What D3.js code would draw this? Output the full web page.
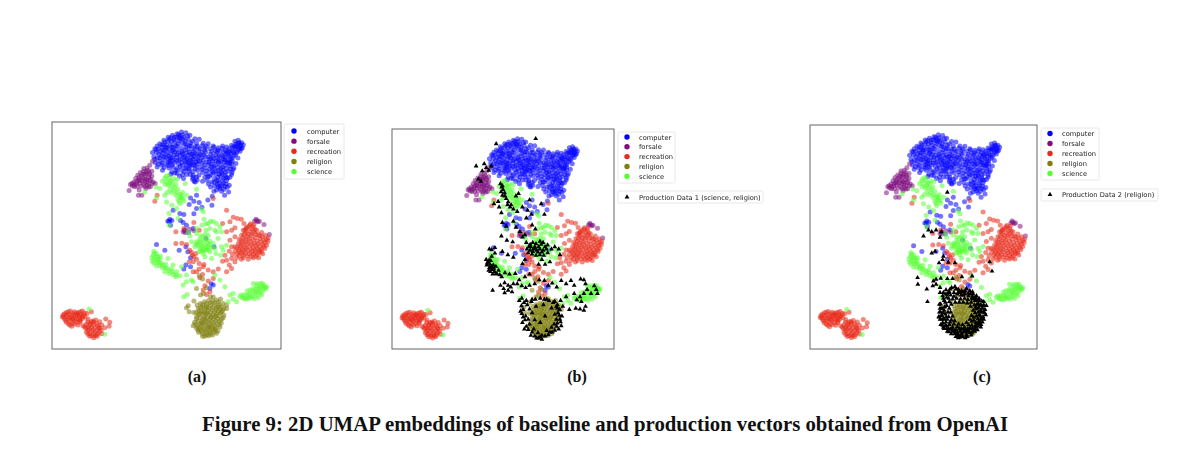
<!DOCTYPE html>
<html><head><meta charset="utf-8">
<script src="https://cdn.jsdelivr.net/npm/d3@7"></script>
<style>html,body{margin:0;background:#fff}svg{display:block}</style></head>
<body><svg id="c" width="1200" height="469"></svg>
<script>
const categories=["computer","forsale","recreation","religion","science"];
const computer=[[345,100],[338,112],[352,92],[360,85],[372,75],[385,66],[398,60],[412,55],[425,50],[438,52],[450,60],[465,70],[478,72],[490,84],[505,85],[520,92],[535,97],[548,92],[560,95],[575,90],[585,78],[595,75],[605,82],[610,88],[600,95],[592,90],[585,100],
[375,80],[388,72],[395,78],[410,66],[420,62],[432,66],[445,72],[458,78],[470,84],[380,90],[366,96],[392,88],[405,80],[418,76],[428,84],[441,88],[452,82],[466,94],[480,100],[495,98],[510,100],[525,106],[540,108],[555,104],[568,100],[578,108],[590,112],[600,108],
[342,125],[350,112],[362,108],[375,104],[388,102],[400,96],[412,92],[424,98],[436,104],[448,100],[460,108],[472,116],[486,112],[498,110],[512,116],[528,118],[545,120],[558,116],[570,124],[582,122],[594,128],[352,128],[365,122],[378,118],[392,116],[404,110],[416,112],[430,118],[444,120],[456,126],[470,130],[484,128],[496,124],[508,132],[522,130],[536,134],[550,132],[563,136],[577,138],[588,145],
[346,142],[360,138],[373,134],[386,132],[398,128],[410,126],[422,132],[434,136],[446,134],[458,140],[472,146],[486,144],[500,140],[514,146],[528,148],[542,146],[556,150],[570,152],[582,158],[366,150],[380,146],[392,144],[404,142],[416,146],[428,150],[440,148],[452,154],[466,160],[480,156],[494,158],[508,162],[522,160],[536,166],[550,164],[564,168],[576,172],
[388,158],[400,156],[412,160],[424,164],[436,160],[448,168],[460,180],[470,186],[458,192],[472,194],[488,172],[500,176],[514,178],[528,176],[542,182],[556,180],[570,186],[560,196],[548,196],[536,196],[524,190],[532,208],[546,210],[558,206],[568,210],[552,222],[540,220],[524,212],[512,215],[566,230],[554,240],[522,228],[517,243],[488,198],[502,195],[440,178],[428,178],[412,174],[396,170],[368,165],[352,155],
[438,96],[454,92],[476,104],[522,96],[538,122],[564,112],[404,66],[418,68],[372,88],[384,78],[400,104],[426,108],[442,130],[458,116],[474,136],[490,134],[518,138],[534,156],[548,156],[562,142],[576,146],[392,128],[410,136],[426,142],[440,158],[454,146],[466,152],[506,150],[520,172],[534,186],[544,170],[556,172],[598,82],[588,86],[602,90],[594,104],[582,112],[572,132],[556,126],
[470,240],[452,248],[462,258],[478,262],[470,280],[462,296],[486,276],[504,254],[516,270],[448,268],[400,285],[420,295],[432,298],[396,316],[388,318],[390,312],[430,322],[422,316],[440,330],[434,345],[446,352],[460,340],[350,388],[375,405],[418,405],[438,395],[444,410],[452,428],[432,462],[438,450],[452,455],[520,510],[510,520],[514,506],[522,395],[498,370],[392,330],[384,318]];
const computerDense=[[381,97],[393,67],[403,73],[415,85],[427,59],[437,77],[449,91],[463,101],[473,93],[487,91],[499,93],[515,109],[531,111],[547,99],[561,109],[573,115],[583,93],[597,99],[607,97],[349,103],[357,117],[369,113],[383,111],[397,107],[411,103],[421,121],[435,125],[449,111],[463,123],[477,123],[491,119],[505,125],[519,123],[533,127],[549,125],[565,121],[577,129],[345,133],[355,147],[367,143],[379,125],[391,137],[403,119],[417,135],[431,127],[445,143],[459,131],[479,139],[493,149],[507,141],[521,153],[535,141],[553,141],[567,145],[579,163],[373,157],[385,151],[397,149],[409,165],[421,153],[433,169],[447,161],[459,169],[473,166],[487,163],[501,167],[515,155],[529,167],[543,159],[559,159],[571,161],[393,177],[405,173],[419,183],[431,190],[463,198],[451,178],[477,180],[495,186],[509,184],[523,201],[537,204],[551,189],[563,188],[575,178],[541,214],[555,214],[530,224],[545,228],[516,200],[506,206],[395,94],[407,91],[423,71],[435,85],[378,96],[370,105],[388,123],[412,118],[427,113],[440,112],[452,118],[466,114],[481,118],[494,105],[534,104],[552,112],[570,107],[587,118],[604,100],[596,84],[589,94],[578,96],[542,138],[556,134],[570,140],[528,137],[513,130],[468,140],[452,136],[438,140],[400,135],[386,140],[372,126],[360,128],[356,100],[366,88],[429,72],[443,62],[416,58],[450,150],[462,148],[546,176],[558,186],[538,176],[530,196],[516,168],[504,184],[550,204],[562,216],[535,215],[460,186],[466,200]];
const forsale=[[338,138],[330,150],[322,158],[312,168],[302,172],[294,180],[288,190],[282,200],[272,208],[268,226],[278,212],[290,206],[300,196],[310,188],[318,178],[328,172],[336,168],[326,186],[314,200],[322,210],[332,214],[340,200],[304,212],[298,224],[306,240],[296,240],[318,220],[330,196],[346,205],[308,176],[296,194],[284,214],[316,192],[326,204],[336,182],[650,316],[644,318],[672,328],[688,358],[430,350],[436,352],[448,342],[462,346]];
const forsaleDense=[[305,183],[298,187],[291,199],[283,207],[276,205],[320,170],[325,165],[315,176],[306,196],[299,203],[311,207],[321,199],[329,178],[333,192],[337,205],[327,215],[316,214],[292,214],[312,160],[320,192],[654,320],[648,312],[658,318],[435,345]];
const recreation=[[630,330],[620,338],[610,345],[640,335],[650,345],[605,360],[618,352],[630,348],[642,350],[655,358],[665,352],[676,360],[685,368],[598,372],[610,368],[622,365],[634,362],[646,368],[660,370],[672,375],[684,378],[595,385],[606,382],[618,380],[630,378],[642,384],[654,386],[668,388],[680,390],[590,398],[602,396],[614,395],[628,393],[640,398],[652,400],[664,402],[674,400],[585,408],[598,410],[610,408],[622,406],[634,410],[646,412],[658,412],[668,416],[598,422],[610,420],[622,422],[634,424],[648,424],[656,428],[578,418],[590,428],[604,432],[625,432],
[560,285],[580,306],[592,310],[604,312],[570,320],[548,325],[612,325],[585,338],[560,350],[575,345],[585,365],[570,375],[575,395],[568,408],[555,420],[575,430],[585,440],[560,435],[548,438],[568,450],[575,460],[560,470],[535,462],[520,470],[505,465],[492,448],[478,462],[462,425],[455,412],[470,432],[460,440],[478,445],[490,455],[408,350],[432,340],[462,322],[478,345],[345,258],[352,240],[520,250],[408,385],[426,384],[440,388],[450,405],[458,420],[468,415],[448,440],[470,470],[488,478],[480,488],[495,512],[505,498],[490,525],[510,530],[500,538],[520,490],[460,470],
[70,600],[80,592],[92,588],[104,590],[116,592],[128,588],[75,612],[84,606],[96,602],[108,604],[120,606],[132,600],[142,595],[80,622],[92,618],[104,616],[116,614],[128,610],[90,630],[104,628],[115,630],[68,606],[88,598],[100,610],[112,598],[124,598],[155,590],[145,612],[155,620],[168,615],[180,620],[140,628],[150,630],[162,630],[175,632],[186,630],[198,612],[210,622],[208,634],[195,638],[138,640],[148,642],[160,644],[172,646],[184,646],[140,652],[150,656],[162,658],[174,658],[186,656],[150,664],[162,668],[172,664],[130,632],[120,622]];
const recreationDense=[[625,334],[635,341],[615,345],[645,343],[624,357],[636,356],[612,358],[648,358],[660,362],[604,376],[616,373],[628,371],[640,374],[652,378],[664,380],[676,382],[600,390],[612,388],[624,386],[636,388],[648,392],[660,394],[672,394],[596,403],[608,402],[620,400],[634,403],[646,405],[658,406],[604,414],[616,414],[628,416],[640,417],[652,418],[664,410],[610,428],[640,428],[592,416],[618,340],[632,326],[642,328],[668,365],[680,372],[585,395],
[74,596],[86,590],[98,595],[110,594],[122,590],[135,594],[72,606],[80,600],[92,608],[104,600],[116,600],[128,604],[136,606],[78,616],[86,612],[98,612],[110,610],[122,612],[86,626],[98,624],[110,622],[122,618],[96,634],[144,620],[152,625],[162,622],[172,626],[145,636],[155,636],[166,638],[178,638],[144,646],[155,648],[166,652],[178,652],[145,658],[156,662],[167,662],[180,640],[135,635],[160,618]];
const religion=[[542,552],[530,555],[518,558],[506,556],[494,560],[482,565],[472,570],[445,572],[440,578],[448,590],[462,592],[475,580],[488,575],[500,572],[512,570],[525,570],[538,568],[550,565],[560,570],[552,580],[540,582],[528,584],[516,584],[504,586],[492,590],[480,596],[470,605],[482,608],[494,604],[506,600],[518,598],[530,596],[542,594],[552,600],[546,612],[534,610],[522,612],[510,614],[498,618],[486,620],[474,618],[464,622],[460,632],[472,632],[484,634],[496,630],[508,628],[520,626],[532,624],[544,624],[540,636],[528,638],[516,640],[504,642],[492,644],[480,644],[470,640],[476,652],[488,656],[500,654],[512,652],[524,650],[534,648],[518,660],[506,662],[494,664],[500,578],[485,590],[512,592],[525,605],[495,612],[508,636],[525,632],[485,625],[470,592],[535,575],[520,546],[545,590],[498,595],
[560,580],[478,482],[488,492],[470,520],[500,518],[490,535],[512,545],[482,540],[462,558]];
const religionDense=[[488,568],[500,565],[512,563],[524,562],[536,561],[482,578],[494,582],[506,578],[518,577],[530,577],[544,575],[478,588],[490,597],[502,593],[514,605],[524,590],[536,589],[548,586],[476,600],[488,612],[500,608],[512,608],[528,602],[538,603],[550,607],[470,612],[480,626],[492,624],[504,622],[516,620],[528,618],[540,617],[466,628],[478,638],[490,638],[502,636],[514,634],[526,644],[538,630],[484,650],[496,649],[508,647],[520,645],[530,655],[500,660],[488,664],[512,658],[474,645]];
const science=[[385,180],[375,190],[368,198],[380,200],[392,196],[402,190],[412,192],[385,210],[396,212],[408,208],[390,222],[402,226],[414,222],[420,236],[408,240],[425,248],[432,258],[418,258],[428,232],[436,205],[350,248],[382,232],[380,260],[396,270],[410,280],[440,240],[470,222],[485,282],[490,290],
[490,365],[480,372],[470,380],[500,372],[510,378],[485,385],[495,390],[505,395],[475,390],[465,395],[485,400],[498,405],[510,410],[490,415],[478,410],[520,385],[525,400],[495,425],[505,360],[498,345],[492,312],[505,325],[520,320],[530,325],[510,340],[525,345],[545,350],[535,370],[545,395],[528,415],[542,420],[515,430],[470,355],[455,380],[445,350],[388,330],[388,295],[415,310],
[342,408],[350,415],[340,420],[355,425],[345,432],[360,432],[338,438],[352,442],[365,445],[378,448],[350,452],[368,458],[382,460],[395,462],[375,470],[388,475],[400,478],[410,470],[385,430],[400,450],[420,482],[408,485],[430,510],[440,500],[455,495],[425,455],[440,480],[460,500],
[672,512],[662,505],[650,512],[640,520],[630,525],[620,540],[608,548],[600,545],[618,552],[630,548],[642,550],[655,548],[665,540],[678,520],[668,528],[655,530],[645,535],[632,538],[660,518],[680,515],[640,505],[622,528],[612,540],[648,522],[668,505],[580,535],[590,560],[580,552],[555,515],[432,545],[442,538],[570,540],[565,560],[540,495],[525,480],
[148,582],[195,658],[315,230],[348,215],[360,220],[375,240],[420,265]];
const scienceDense=[[378,184],[388,190],[398,200],[376,208],[390,204],[404,216],[395,232],[410,232],[420,246],[414,252],[424,240],[430,250],[483,378],[494,376],[503,384],[474,384],[488,393],[480,398],[500,398],[492,403],[468,388],[508,388],[482,362],[495,358],[483,408],[504,404],[515,398],[490,407],[344,414],[348,424],[336,428],[352,434],[362,424],[342,444],[358,440],[370,450],[360,452],[376,458],[388,466],[398,470],[410,480],[656,520],[648,530],[638,528],[626,540],[636,545],[648,542],[660,534],[672,522],[612,550],[604,540],[625,550],[674,516],[665,514],[652,506],[530,350],[550,405],[560,390],[470,340],[486,330],[512,318],[498,326],[450,362],[540,335]];
const production1=[[481,50],[359,66],[297,135],[322,128],[328,140],[336,148],[316,150],[344,135],[304,175],[312,182],[372,190],[376,200],[380,208],[385,218],[378,226],[390,236],[396,246],[405,255],[412,268],[424,276],[365,245],[352,252],[368,262],[375,280],[440,262],[456,272],[468,285],[452,296],[462,240],[420,228],[428,220],[498,252],[508,285],[378,310],[390,322],[412,306],[420,325],[432,338],[448,348],[470,318],[480,330],[375,352],[392,365],[410,370],[440,355],
[464,378],[472,372],[482,376],[494,368],[504,372],[518,380],[530,392],[454,392],[464,396],[474,392],[484,396],[494,392],[504,396],[518,404],[470,408],[482,412],[494,410],[506,412],[490,385],[478,385],[460,385],[510,385],[498,378],[452,372],[500,425],[510,440],[525,432],[490,440],[540,385],[552,392],[556,410],[448,425],[440,438],[412,418],[395,410],[378,400],[355,405],[345,395],[338,392],[355,388],[345,415],
[328,425],[334,432],[340,440],[330,442],[338,450],[346,456],[354,462],[362,470],[370,472],[336,458],[350,442],[342,428],[358,446],[348,470],[366,458],[376,478],[386,466],[400,470],[418,468],[430,488],[448,478],[462,470],
[385,497],[396,505],[404,510],[412,500],[424,500],[438,506],[450,512],[462,505],[478,500],[492,488],[508,490],[520,505],[532,498],[546,510],[560,490],[575,500],[590,490],[600,505],[408,525],[396,520],[385,528],[382,515],[372,505],[348,520],
[620,485],[630,488],[635,500],[662,506],[668,518],[672,530],[652,530],[640,518],[630,530],[618,540],[608,550],[622,555],[635,570],[630,582],[618,578],[605,576],[585,580],[600,530],[575,540],[558,552],[548,565],[565,570],
[438,545],[445,558],[437,568],[442,580],[438,592],[450,600],[448,612],[440,620],[452,632],[458,642],[470,650],[478,662],[490,668],[500,672],[510,662],[520,658],[532,650],[540,644],[552,640],[560,630],[548,622],[556,610],[562,600],[550,590],[555,580],[545,570],[535,558],[522,552],[508,548],[495,545],[480,548],[468,555],[455,565],[462,578],[470,590],[458,610],[462,625],[475,640],[488,652],[500,660],[515,645],[530,635],[538,625],[545,610],[540,595],[530,575],[505,565],[482,570],[510,600],[495,620],[478,612],
[331,436],[337,427],[344,447],[352,452],[341,462],[358,468],[466,385],[480,390],[488,402],[500,402],[472,400],[458,404],[514,392],[430,552],[434,585],[442,603],[446,640],[466,660],[484,668],[495,664],[525,650],[546,632],[558,618],[554,598],[548,575],[540,555],[515,548],[470,548],[452,552],[378,196],[374,215],[386,228],[394,255],[402,262]];
const production2=[[452,225],[395,340],[405,345],[418,340],[380,358],[434,345],[430,362],[415,405],[405,410],[440,420],[438,430],[427,440],[455,438],[475,440],[580,437],[587,465],[362,485],[363,505],[390,520],[392,558],[410,495],[418,490],[432,487],[452,488],[468,488],[496,482],[527,480],[408,510],[418,505],[430,515],
[465,515],[475,512],[448,522],[458,528],[485,520],[495,525],[510,518],[520,525],[530,535],[540,540],[548,548],[556,556],[562,568],[570,570],[566,582],[558,578],[565,592],[560,604],[552,612],[558,620],[548,628],[538,636],[530,646],[520,652],[510,658],[498,664],[486,660],[474,656],[466,648],[456,640],[446,630],[438,622],[430,612],[436,600],[428,590],[436,578],[432,565],[442,555],[450,545],[438,540],[462,538],[472,530],[482,535],[494,538],[506,535],[516,540],[526,548],[536,555],[546,565],[555,590],[548,598],[544,610],[538,622],[526,630],[514,640],[502,650],[490,648],[478,644],[468,636],[458,628],[448,620],[440,610],[446,596],[442,584],[450,570],[458,558],[468,550],[480,548],[492,550],[504,548],[514,552],[524,560],[534,568],[540,580],[536,592],[532,606],[526,618],[516,628],[504,636],[494,640],[482,634],[472,626],[464,614],[456,604],[454,590],[458,578],[464,566],[476,560],[488,560],[500,560],[512,562],[522,572],[530,584],[525,600],[520,612],[510,622],[498,628],[486,626],[474,616],[468,602],[462,590],
[448,535],[472,542],[500,528],[522,535],[542,552],[552,568],[562,558],[568,598],[553,635],[543,644],[524,660],[512,664],[490,666],[478,664],[464,656],[452,648],[440,636],[432,628],[426,604],[430,578],[428,566],[440,548],[455,530],[486,528],[506,526],[528,528],[536,545],[546,576],[552,602],[544,632],[534,640],[516,646],[496,654],[482,652],[462,642],[450,632],[442,640],[436,612],[448,605],[440,592],[446,560],[456,548],[516,532],[528,542],[538,575],[542,565],[556,610],[550,620],[528,640],[506,644],[474,648],[460,620],[452,612],[432,590],[428,605],
[546,590],[552,585],[560,590],[556,570],[548,555],[538,548],[530,550],[562,612],[554,628],[542,626],[535,648],[522,640],[510,650],[500,642],[488,640],[478,655],[468,644],[456,650],[532,615],[540,602],[546,620],[520,638],[536,632],[526,654],[506,668],[495,658],[485,668],[444,612],[438,630],[450,640],[434,600],[444,574],[452,536],[440,530],[430,530],[460,520],[478,520],[490,530],[500,538]];
const colors=["#0505ff","#80107f","#e82a1a","#7f7f0c","#55ff33"];
const baseline=[computer.concat(computerDense),forsale.concat(forsaleDense),recreation.concat(recreationDense),religion.concat(religionDense),science.concat(scienceDense)];
const panels=[
{x0:52,x1:281,y0:122,y1:349,legend:[284,124,60,55,294,307,131],sub:"(a)",sx:197},
{x0:392,x1:614,y0:129,y1:349,legend:[618,132,57,51,627,639,137],sub:"(b)",sx:577,prod:production1,plabel:"Production Data 1 (science, religion)",pbox:[618,191,145,12,627,639,197]},
{x0:810,x1:1037,y0:125,y1:349,legend:[1041,128,58,52,1050,1062,133.5],sub:"(c)",sx:982,prod:production2,plabel:"Production Data 2 (religion)",pbox:[1041,189,117,12,1050,1062,194.5]}];
const svg=d3.select("#c");
const defs=svg.append("defs");
defs.append("filter").attr("id","b").attr("x","-5%").attr("y","-5%").attr("width","110%").attr("height","110%")
 .append("feGaussianBlur").attr("stdDeviation",0.45);
const tri=d3.symbol().type(d3.symbolTriangle).size(10);
const FONT="'DejaVu Sans',sans-serif";
panels.forEach(p=>{
 const g=svg.append("g").attr("filter","url(#b)");
 const x=d3.scaleLinear().domain([37,723]).range([p.x0,p.x1]);
 const y=d3.scaleLinear().domain([20,702]).range([p.y0,p.y1]);
 baseline.forEach((s,i)=>{
  g.append("g").selectAll("circle").data(s).join("circle")
   .attr("cx",d=>x(d[0])).attr("cy",d=>y(d[1])).attr("r",2.5)
   .attr("fill",colors[i]).attr("fill-opacity",0.55);
 });
 if(p.prod) g.append("g").selectAll("path").data(p.prod).join("path")
   .attr("d",tri).attr("transform",d=>`translate(${x(d[0])},${y(d[1])})`).attr("fill","#000");
 g.append("rect").attr("x",p.x0).attr("y",p.y0).attr("width",p.x1-p.x0).attr("height",p.y1-p.y0)
   .attr("fill","none").attr("stroke","#555").attr("stroke-width",0.9);
 const [lx,ly,lw,lh,mx,tx,ty]=p.legend;
 g.append("rect").attr("x",lx).attr("y",ly).attr("width",lw).attr("height",lh).attr("rx",1.5)
   .attr("fill","#fff").attr("stroke","#e2e2e2").attr("stroke-width",0.8);
 categories.forEach((c,i)=>{
  const yy=ty+i*10.15*(lh/55)+ (lh<55?0.4*i:0);
  g.append("circle").attr("cx",mx).attr("cy",yy).attr("r",2.7).attr("fill",colors[i]);
  g.append("text").attr("x",tx).attr("y",yy+2.5).attr("font-family",FONT).attr("font-size",6.7).attr("fill","#222").text(c);
 });
 if(p.pbox){
  const [bx,by,bw,bh,bm,bt,bty]=p.pbox;
  g.append("rect").attr("x",bx).attr("y",by).attr("width",bw).attr("height",bh).attr("rx",1.5)
   .attr("fill","#fff").attr("stroke","#e2e2e2").attr("stroke-width",0.8);
  g.append("path").attr("d",tri).attr("transform",`translate(${bm},${bty})`).attr("fill","#000");
  g.append("text").attr("x",bt).attr("y",bty+2.5).attr("font-family",FONT).attr("font-size",6.7).attr("fill","#222").text(p.plabel);
 }
 svg.append("text").attr("x",p.sx).attr("y",382).attr("text-anchor","middle")
  .attr("font-family","'Liberation Serif',serif").attr("font-weight","bold").attr("font-size",16).attr("fill","#111").text(p.sub);
});
svg.append("text").attr("x",605).attr("y",431).attr("text-anchor","middle")
 .attr("font-family","'Liberation Serif',serif").attr("font-weight","bold").attr("font-size",20).attr("fill","#111")
 .attr("textLength",806).attr("lengthAdjust","spacingAndGlyphs")
 .text("Figure 9: 2D UMAP embeddings of baseline and production vectors obtained from OpenAI");
</script></body></html>
